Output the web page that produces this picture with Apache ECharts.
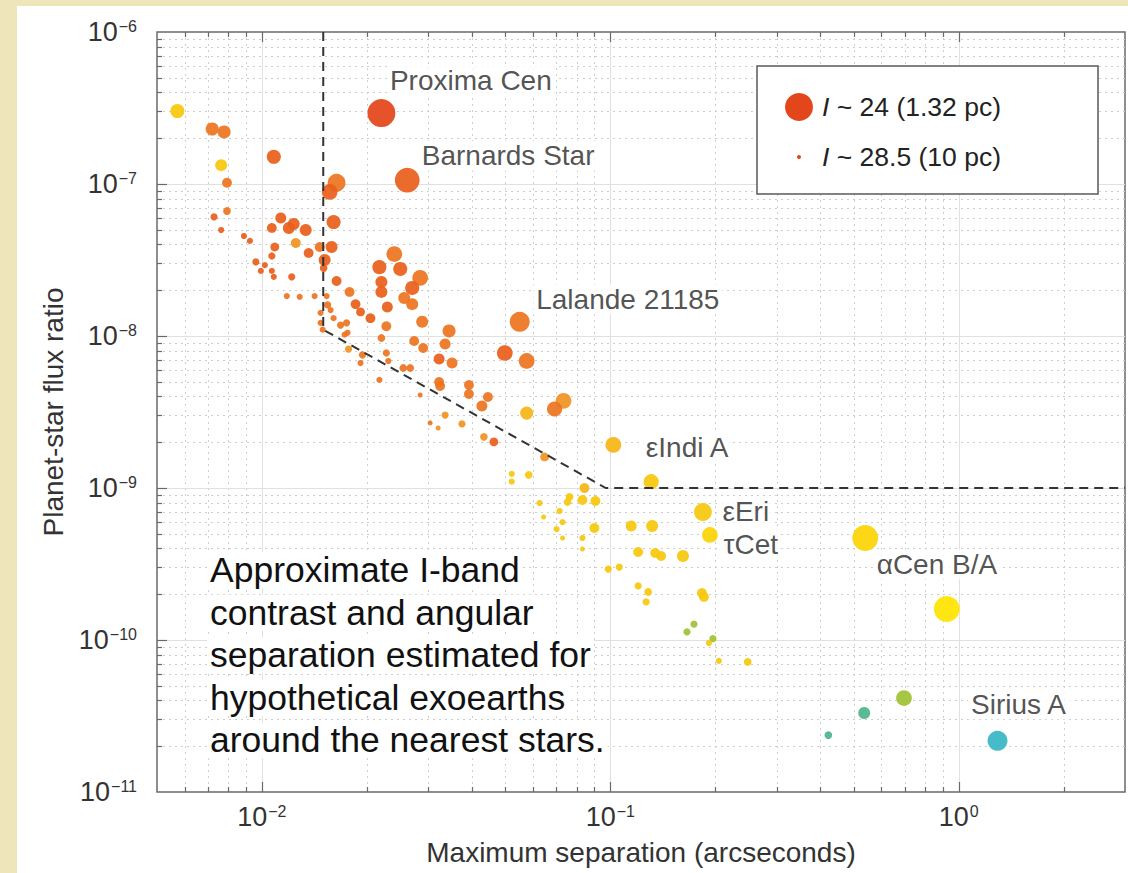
<!DOCTYPE html>
<html>
<head>
<meta charset="utf-8">
<script src="https://cdn.jsdelivr.net/npm/echarts@6/dist/echarts.min.js"></script>
<style>
html,body{margin:0;padding:0;width:1128px;height:873px;overflow:hidden;background:#efe5bb;}
#panel{position:absolute;left:17px;top:6px;right:0;bottom:0;background:#ffffff;}
#chart{position:absolute;left:0;top:0;width:1128px;height:873px;}
</style>
</head>
<body>
<div id="panel"></div>
<div id="chart"></div>
<script>
// ---------------- data ----------------
const xAxisRange = [0.005, 3];
const yAxisRange = [1e-11, 1e-6];
const xMajorTicks = [0.01, 0.1, 1];
const xMinorTicks = [0.006, 0.007, 0.008, 0.009, 0.02, 0.03, 0.04, 0.05, 0.06, 0.07, 0.08, 0.09,
  0.2, 0.3, 0.4, 0.5, 0.6, 0.7, 0.8, 0.9, 2];
const yMajorTicks = [1e-10, 1e-9, 1e-8, 1e-7];
const yMinorTicks = [2e-11, 3e-11, 4e-11, 5e-11, 6e-11, 7e-11, 8e-11, 9e-11,
  2e-10, 3e-10, 4e-10, 5e-10, 6e-10, 7e-10, 8e-10, 9e-10,
  2e-9, 3e-9, 4e-9, 5e-9, 6e-9, 7e-9, 8e-9, 9e-9,
  2e-8, 3e-8, 4e-8, 5e-8, 6e-8, 7e-8, 8e-8, 9e-8,
  2e-7, 3e-7, 4e-7, 5e-7, 6e-7, 7e-7, 8e-7, 9e-7];

// maximum separation (arcsec)
const separation = [
  0.00572, 0.00720, 0.00779, 0.00764, 0.01082, 0.00794, 0.01638, 0.01565, 0.02613, 0.02203,
  0.00794, 0.00729, 0.00764, 0.01133, 0.01068, 0.01195, 0.01234, 0.01336, 0.01606, 0.00888,
  0.00924, 0.01251, 0.01089, 0.01465, 0.01585, 0.01362, 0.01068, 0.00961, 0.01020, 0.00993,
  0.01068, 0.01082, 0.01218, 0.01514, 0.01504, 0.01638, 0.01785, 0.02399, 0.02174, 0.02495,
  0.02203, 0.02203, 0.02846, 0.02700, 0.01179, 0.01284, 0.01417, 0.01534, 0.02562, 0.02700,
  0.01857, 0.01919, 0.02049, 0.02291, 0.01544, 0.01575, 0.01474, 0.01606, 0.01474, 0.01494,
  0.01682, 0.01750, 0.01761, 0.01727, 0.02276, 0.02884, 0.03445, 0.02203, 0.02736, 0.02903,
  0.03356, 0.01773, 0.02276, 0.02306, 0.01944, 0.01919, 0.03226, 0.03514, 0.02545, 0.02665,
  0.02174, 0.03226, 0.03247, 0.03929, 0.03929, 0.02846, 0.04453, 0.04280, 0.05495, 0.04979,
  0.05754, 0.07341, 0.06918, 0.05754, 0.03356, 0.03040, 0.03205, 0.03752, 0.04337, 0.04632,
  0.06478, 0.1020, 0.1310, 0.05214, 0.05214, 0.05831, 0.08428, 0.07637, 0.07537, 0.08318,
  0.09060, 0.06268, 0.07150, 0.06435, 0.07293, 0.07010, 0.07293, 0.08318, 0.08318, 0.09001,
  0.1844, 0.1931, 0.1148, 0.1318, 0.1202, 0.1345, 0.1399, 0.1616, 0.09869, 0.1061,
  0.1202, 0.1284, 0.1267, 0.1832, 0.1857, 0.1660, 0.1738, 0.1970, 0.1919, 0.2049,
  0.2479, 0.5389, 0.9240, 0.6964, 0.5354, 0.4224, 1.292
];
// planet-star flux ratio
const fluxRatio = [
  3.02e-7, 2.30e-7, 2.20e-7, 1.33e-7, 1.51e-7, 1.02e-7, 1.02e-7, 8.86e-8, 1.06e-7, 2.93e-7,
  6.64e-8, 6.07e-8, 4.98e-8, 5.97e-8, 5.14e-8, 5.14e-8, 5.46e-8, 4.98e-8, 5.62e-8, 4.55e-8,
  4.22e-8, 4.09e-8, 3.85e-8, 3.85e-8, 3.85e-8, 3.52e-8, 3.36e-8, 3.07e-8, 2.93e-8, 2.68e-8,
  2.68e-8, 2.45e-8, 2.45e-8, 3.16e-8, 2.80e-8, 2.30e-8, 1.95e-8, 3.46e-8, 2.84e-8, 2.76e-8,
  2.27e-8, 1.95e-8, 2.41e-8, 2.07e-8, 1.83e-8, 1.81e-8, 1.83e-8, 1.83e-8, 1.78e-8, 1.62e-8,
  1.62e-8, 1.44e-8, 1.31e-8, 1.55e-8, 1.60e-8, 1.48e-8, 1.42e-8, 1.31e-8, 1.22e-8, 1.10e-8,
  1.18e-8, 1.22e-8, 1.05e-8, 1.02e-8, 1.16e-8, 1.24e-8, 1.08e-8, 9.70e-9, 9.27e-9, 8.34e-9,
  8.86e-9, 8.21e-9, 7.73e-9, 6.85e-9, 7.50e-9, 6.64e-9, 7.06e-9, 6.64e-9, 6.16e-9, 6.16e-9,
  5.14e-9, 4.98e-9, 4.69e-9, 4.76e-9, 4.15e-9, 4.09e-9, 3.97e-9, 3.46e-9, 1.24e-8, 7.73e-9,
  6.85e-9, 3.74e-9, 3.31e-9, 3.11e-9, 3.02e-9, 2.68e-9, 2.48e-9, 2.64e-9, 2.17e-9, 2.01e-9,
  1.60e-9, 1.92e-9, 1.10e-9, 1.24e-9, 1.10e-9, 1.22e-9, 1.00e-9, 8.73e-10, 8.09e-10, 8.34e-10,
  8.21e-10, 7.97e-10, 7.06e-10, 6.45e-10, 5.97e-10, 5.37e-10, 4.69e-10, 4.69e-10, 3.97e-10, 5.46e-10,
  6.95e-10, 4.91e-10, 5.62e-10, 5.62e-10, 3.79e-10, 3.74e-10, 3.57e-10, 3.57e-10, 2.93e-10, 3.02e-10,
  2.27e-10, 2.07e-10, 1.78e-10, 2.04e-10, 1.92e-10, 1.13e-10, 1.27e-10, 1.02e-10, 9.56e-11, 7.28e-11,
  7.17e-11, 4.69e-10, 1.60e-10, 4.15e-11, 3.31e-11, 2.37e-11, 2.17e-11
];
// approximate planet I-band magnitude (sets dot size)
const planetIMag = [
  26.6, 26.8, 26.8, 27.0, 26.6, 27.4, 25.9, 26.3, 24.6, 24.0,
  27.8, 27.9, 28.1, 27.2, 27.4, 27.0, 27.0, 27.0, 26.6, 28.1,
  28.1, 27.4, 27.6, 27.4, 27.0, 27.4, 27.9, 27.9, 28.1, 28.1,
  28.1, 28.1, 27.9, 27.0, 27.8, 27.4, 27.4, 26.3, 26.6, 26.6,
  27.0, 27.0, 26.3, 26.6, 28.1, 28.1, 28.1, 28.1, 27.0, 27.0,
  27.4, 27.6, 27.4, 27.2, 27.9, 28.1, 28.1, 28.1, 28.1, 28.1,
  27.9, 27.9, 28.1, 28.1, 27.4, 27.0, 26.8, 27.8, 27.4, 27.4,
  27.2, 27.9, 27.9, 28.1, 27.9, 28.1, 27.2, 27.2, 27.8, 27.8,
  28.1, 27.4, 27.4, 27.4, 27.4, 28.3, 27.4, 27.2, 25.5, 26.3,
  26.3, 26.3, 26.4, 26.8, 27.9, 28.3, 28.3, 27.9, 27.8, 27.6,
  27.6, 26.3, 26.4, 28.1, 28.1, 27.8, 27.4, 27.8, 27.8, 27.4,
  27.4, 28.1, 28.1, 28.3, 28.1, 28.1, 28.3, 28.1, 28.3, 27.4,
  25.9, 26.3, 27.2, 27.0, 27.4, 27.4, 27.4, 27.0, 27.9, 27.9,
  27.9, 27.8, 27.9, 27.4, 27.4, 27.9, 27.9, 27.9, 28.1, 28.1,
  27.8, 24.4, 24.4, 26.3, 27.0, 27.8, 25.5
];
// approximate stellar effective temperature (K) (sets dot colour)
const starTeff = [
  4900, 3400, 3400, 4800, 3000, 3500, 3300, 3100, 3200, 2800,
  3300, 3100, 3100, 3100, 3100, 3100, 3100, 3100, 3100, 3100,
  3100, 3800, 3100, 3300, 3100, 3100, 3100, 3100, 3100, 3100,
  3100, 3100, 3100, 3100, 3100, 3100, 3300, 3300, 3100, 3100,
  3100, 3100, 3400, 3100, 3400, 3400, 3400, 3400, 3400, 3400,
  3100, 3100, 3100, 3100, 3400, 3400, 3400, 3400, 3400, 3400,
  3400, 3400, 3400, 3400, 3400, 3400, 3400, 3400, 3400, 3400,
  3400, 3700, 3400, 3400, 3400, 3400, 3100, 3400, 3400, 3400,
  3400, 3400, 3400, 3400, 3400, 3400, 3400, 3400, 3300, 3200,
  3400, 3700, 3500, 4300, 3700, 3400, 3700, 3700, 3700, 3200,
  3900, 4600, 4800, 5000, 5000, 5000, 4500, 5000, 5000, 5000,
  5000, 5000, 5000, 5000, 5000, 5000, 5000, 5000, 5000, 5000,
  5000, 5400, 5000, 5000, 5000, 5000, 5000, 5000, 5000, 5000,
  5000, 5000, 5000, 5000, 5000, 6500, 6500, 6500, 5000, 5000,
  5000, 5300, 5800, 6400, 7200, 7500, 9900
];

const labelNames = ['Proxima Cen', 'Barnards Star', 'Lalande 21185', '\u03b5Indi A', '\u03b5Eri', '\u03c4Cet', '\u03b1Cen B/A', 'Sirius A'];
const labelStarIndex = [9, 8, 88, 101, 120, 121, 141, 146];

const boundarySep = [0.015, 0.015, 0.097, 3];
const boundaryFlux = [1e-6, 1.1e-8, 1e-9, 1e-9];

const legendMags = [24, 28.5];
const legendDist = [1.32, 10];

const annotationLines = ['Approximate I-band', 'contrast and angular', 'separation estimated for',
  'hypothetical exoearths', 'around the nearest stars.'];

// ---------------- styles ----------------
const FONT = '"Liberation Sans", Arial, Helvetica, sans-serif';
const labelOffsets = {
  'Proxima Cen': [6, -32], 'Barnards Star': [12, -24], 'Lalande 21185': [14, -22],
  '\u03b5Indi A': [30, 3], '\u03b5Eri': [17, 0], '\u03c4Cet': [11, 10],
  '\u03b1Cen B/A': [9, 27], 'Sirius A': [-29, -36]
};
function dotRadius(mag) { return 14 - (mag - 24) * 12 / 4.5; }

const majorGrid = { stroke: '#e0e0e0', lineWidth: 1 };
const minorGrid = { stroke: '#cdcdcd', lineWidth: 1, lineDash: [2, 4] };
const tickStyle = { stroke: '#6a6a6a', lineWidth: 1.2 };

function renderTick(params, api) {
  const cs = params.coordSys;
  const kind = api.value(2);
  const top = cs.y, bottom = cs.y + cs.height, left = cs.x;
  const ch = [];
  if (kind < 2) {
    const px = Math.round(api.coord([api.value(0), yAxisRange[0]])[0]) + 0.5;
    const len = kind === 1 ? 10 : 5;
    ch.push({ type: 'line', shape: { x1: px, y1: top, x2: px, y2: bottom }, style: kind === 1 ? majorGrid : minorGrid });
    ch.push({ type: 'line', shape: { x1: px, y1: bottom, x2: px, y2: bottom - len }, style: tickStyle });
    ch.push({ type: 'line', shape: { x1: px, y1: top, x2: px, y2: top + len }, style: tickStyle });
  } else {
    const py = Math.round(api.coord([xAxisRange[0], api.value(1)])[1]) + 0.5;
    const len = kind === 3 ? 10 : 5;
    ch.push({ type: 'line', shape: { x1: left, y1: py, x2: left + cs.width, y2: py }, style: kind === 3 ? majorGrid : minorGrid });
    ch.push({ type: 'line', shape: { x1: left, y1: py, x2: left + len, y2: py }, style: tickStyle });
  }
  return { type: 'group', children: ch };
}

const tickData = []
  .concat(xMinorTicks.map(v => [v, yAxisRange[0], 0]))
  .concat(xMajorTicks.map(v => [v, yAxisRange[0], 1]))
  .concat(yMinorTicks.map(v => [xAxisRange[0], v, 2]))
  .concat(yMajorTicks.map(v => [xAxisRange[0], v, 3]));

function powLabel(v) {
  const l = Math.log10(v);
  const e = Math.round(l);
  if (Math.abs(l - e) > 1e-6) return '';
  return '{b|10}{s|' + (e < 0 ? '\u2212' : '') + Math.abs(e) + '}';
}
const tickRich = {
  b: { fontSize: 27, lineHeight: 27, color: '#333', fontFamily: FONT },
  s: { fontSize: 16, color: '#333', fontFamily: FONT, verticalAlign: 'top', padding: [0, 0, 0, 1] }
};

const starData = separation.map((s, i) => [s, fluxRatio[i], planetIMag[i], starTeff[i]]);
const labelData = labelStarIndex.map((k, j) => ({
  value: [separation[k], fluxRatio[k]],
  name: labelNames[j],
  label: { position: labelOffsets[labelNames[j]] }
}));

const chart = echarts.init(document.getElementById('chart'), null, { renderer: 'svg' });
chart.setOption({
  animation: false,
  backgroundColor: 'transparent',
  grid: { left: 157, top: 32, width: 974, height: 760, show: true, borderColor: '#6a6a6a', borderWidth: 1.5, backgroundColor: 'transparent' },
  xAxis: {
    type: 'log', logBase: 10, min: xAxisRange[0], max: xAxisRange[1],
    axisLine: { show: false }, axisTick: { show: false }, splitLine: { show: false },
    axisLabel: { formatter: powLabel, margin: 11, rich: tickRich },
    name: 'Maximum separation (arcseconds)', nameLocation: 'middle', nameGap: 46,
    nameTextStyle: { fontSize: 28, color: '#333', fontFamily: FONT }
  },
  yAxis: {
    type: 'log', logBase: 10, min: yAxisRange[0], max: yAxisRange[1],
    axisLine: { show: false }, axisTick: { show: false }, splitLine: { show: false },
    axisLabel: { formatter: powLabel, margin: 20, rich: tickRich },
    name: 'Planet-star flux ratio', nameLocation: 'middle', nameGap: 90,
    nameTextStyle: { fontSize: 28, color: '#333', fontFamily: FONT }
  },
  visualMap: {
    type: 'piecewise', show: false, dimension: 3, seriesIndex: 1,
    pieces: [
      { lt: 2950, color: '#e4461b' },
      { gte: 2950, lt: 3250, color: '#e8601c' },
      { gte: 3250, lt: 3550, color: '#ed7420' },
      { gte: 3550, lt: 4000, color: '#f19322' },
      { gte: 4000, lt: 4700, color: '#f5b616' },
      { gte: 4700, lt: 5200, color: '#f8c70e' },
      { gte: 5200, lt: 5600, color: '#fbd406' },
      { gte: 5600, lt: 6200, color: '#ffe300' },
      { gte: 6200, lt: 7000, color: '#a0c236' },
      { gte: 7000, lt: 8500, color: '#4db58c' },
      { gte: 8500, color: '#38b6c6' }
    ]
  },
  series: [
    { type: 'custom', data: tickData, renderItem: renderTick, encode: { x: 0, y: 1 }, silent: true, z: 1, clip: false },
    { type: 'scatter', data: starData, symbolSize: v => 2 * dotRadius(v[2]), itemStyle: { opacity: 0.93 }, z: 3, silent: true },
    {
      type: 'line', data: boundarySep.map((s, i) => [s, boundaryFlux[i]]), symbol: 'none', silent: true, z: 4,
      lineStyle: { color: '#333333', width: 2, type: [9, 6] }
    },
    {
      type: 'scatter', data: labelData, symbolSize: 1, itemStyle: { color: 'rgba(0,0,0,0)' }, z: 5, silent: true,
      label: {
        show: true, formatter: '{b}', align: 'left', verticalAlign: 'middle',
        fontSize: 28, color: '#262626', fontFamily: FONT, backgroundColor: '#ffffff', padding: [1, 3]
      }
    }
  ],
  graphic: [
    { type: 'rect', z: 100, shape: { x: 757, y: 66, width: 341, height: 128 }, style: { fill: '#ffffff', stroke: '#5a5a5a', lineWidth: 1.5 } },
    { type: 'circle', z: 101, shape: { cx: 799, cy: 107, r: dotRadius(legendMags[0]) }, style: { fill: '#e4461b' } },
    { type: 'circle', z: 101, shape: { cx: 799, cy: 157, r: dotRadius(legendMags[1]) }, style: { fill: '#e4461b' } },
    {
      type: 'text', z: 101, x: 822, y: 107,
      style: {
        text: '{i|I} ~ ' + legendMags[0] + ' (' + legendDist[0] + ' pc)', verticalAlign: 'middle',
        fill: '#222', fontSize: 26.5, fontFamily: FONT,
        rich: { i: { fontStyle: 'italic', fontSize: 26.5, fontFamily: FONT, fill: '#222' } }
      }
    },
    {
      type: 'text', z: 101, x: 822, y: 157,
      style: {
        text: '{i|I} ~ ' + legendMags[1] + ' (' + legendDist[1] + ' pc)', verticalAlign: 'middle',
        fill: '#222', fontSize: 26.5, fontFamily: FONT,
        rich: { i: { fontStyle: 'italic', fontSize: 26.5, fontFamily: FONT, fill: '#222' } }
      }
    },
    {
      type: 'text', z: 101, x: 207, y: 549,
      style: {
        text: annotationLines.map(l => '{t|' + l + '}').join('\n'), verticalAlign: 'top',
        rich: { t: { fontSize: 35.5, lineHeight: 42.5, fill: '#111', fontFamily: FONT, backgroundColor: '#ffffff', padding: [0, 3, 0, 3] } }
      }
    }
  ]
});
</script>
</body>
</html>
